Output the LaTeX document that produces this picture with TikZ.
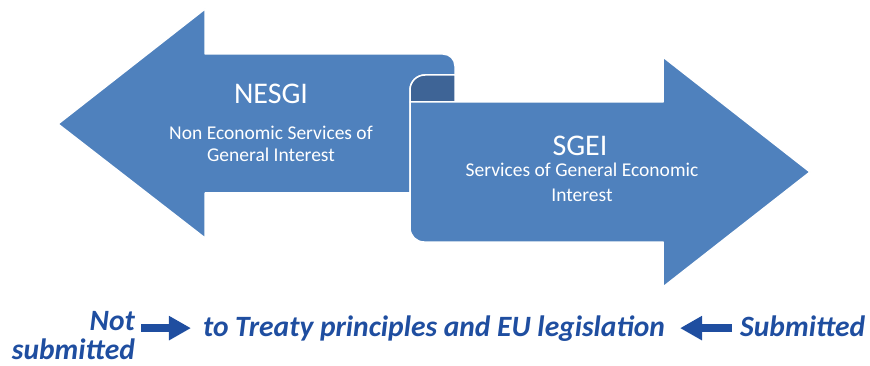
\documentclass[tikz,border=0pt]{standalone}
\usepackage{fontspec}
\setmainfont{Carlito}
\usetikzlibrary{arrows.meta}
\definecolor{arrowblue}{RGB}{79,129,189}
\definecolor{curlblue}{RGB}{62,100,150}
\definecolor{textblue}{RGB}{31,78,160}

\begin{document}
\begin{tikzpicture}[x=1pt, y=-1pt,
    ribbon/.style={fill=arrowblue, draw=white, line width=1.5pt, line join=round},
    title/.style={text=white, font=\fontsize{30}{36}\selectfont, anchor=base},
    sub/.style={text=white, font=\fontsize{19.5}{22}\selectfont, align=center, anchor=base},
    note/.style={text=textblue, font=\fontsize{29.5}{32}\selectfont\bfseries\itshape, inner sep=0pt},
    block/.style={draw=textblue, line width=8pt, -{Triangle[length=22pt, width=23pt]}}]
\useasboundingbox (0,0) rectangle (870,366);

% left arrow, its shaft rolls over at the top right
\draw[ribbon] (58,124) -- (205,9) -- (205,54) -- (443,54)
    arc[start angle=-90, end angle=0, radius=12] -- (455,75) -- (425,75)
    arc[start angle=-90, end angle=-180, radius=15] -- (410,193)
    -- (205,193) -- (205,238) -- cycle;
% back of the roll
\draw[ribbon, fill=curlblue] (455,75) -- (455,102) -- (410,102) -- (410,90)
    arc[start angle=-180, end angle=-90, radius=15] -- cycle;
% right arrow
\draw[ribbon] (410,102) -- (663,102) -- (663,57) -- (810,172) -- (663,287)
    -- (663,242) -- (424,242) arc[start angle=90, end angle=180, radius=14] -- cycle;

% multi-line nodes sit on the baseline of their last line
\node[title] (nesgi) at (271,104) {NESGI};
\node[sub] (nesgitxt) at (271,162) {Non Economic Services of\\General Interest};
\node[title] (sgei) at (580,156) {SGEI};
\node[sub] (sgeitxt) at (582,202) {Services of General Economic\\[3pt]Interest};

\node[note, anchor=base east] (notlbl) at (135,330) {Not};
\node[note, anchor=base east] (submlbl) at (135,359) {submitted};
\node[note, anchor=base] (treaty) at (434,336) {to Treaty principles and EU legislation};
\node[note, anchor=base west] (submitted) at (740,336) {Submitted};

\draw[block, shorten <=6pt, shorten >=12pt] (treaty.west -| notlbl.east) -- (treaty.west);
\draw[block, shorten <=8pt, shorten >=15pt] (submitted.west |- treaty.east) -- (treaty.east);
\end{tikzpicture}
\end{document}
